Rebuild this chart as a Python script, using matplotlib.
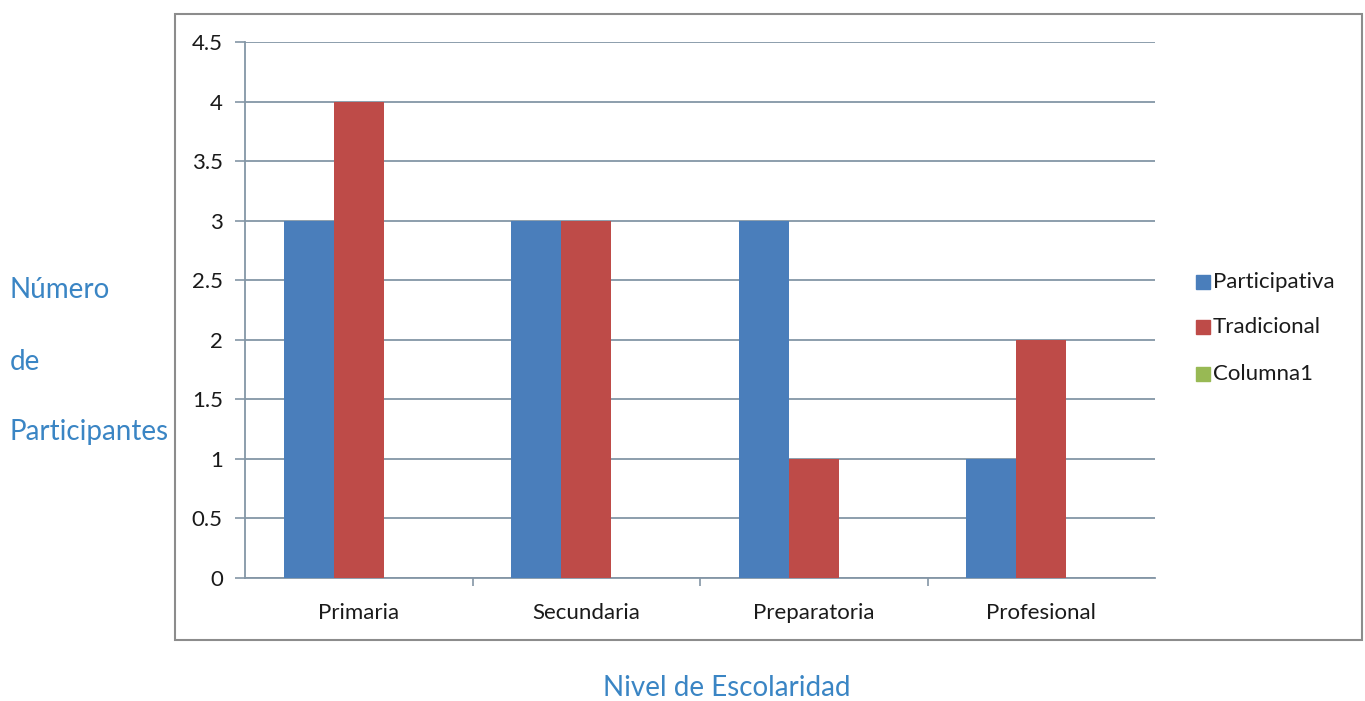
import matplotlib
matplotlib.use("Agg")
import matplotlib.pyplot as plt
import numpy as np
from matplotlib.patches import Rectangle

categories = ["Primaria", "Secundaria", "Preparatoria", "Profesional"]
series_names = ["Participativa", "Tradicional", "Columna1"]
participativa = [3, 3, 3, 1]
tradicional = [4, 3, 1, 2]
columna1 = [0, 0, 0, 0]
colors = ["#4a7ebb", "#be4b48", "#98b954"]
yticks = [0, 0.5, 1, 1.5, 2, 2.5, 3, 3.5, 4, 4.5]
ytick_labels = ["0", "0.5", "1", "1.5", "2", "2.5", "3", "3.5", "4", "4.5"]

plt.rcParams["font.family"] = ["Lato", "DejaVu Sans"]

W, H = 1365, 701
fig = plt.figure(figsize=(W / 100, H / 100), dpi=100)

# outer chart border
fig.patches.append(Rectangle((175 / W, 1 - 640 / H), (1362 - 175) / W, (640 - 14) / H,
                             transform=fig.transFigure, fill=False, edgecolor="#8c8c8c", lw=1.5))

ax = fig.add_axes([245 / W, 1 - 578 / H, 910 / W, 536 / H])

x = np.arange(len(categories))
width = 0.22
for i, (vals, name) in enumerate(zip([participativa, tradicional, columna1], series_names)):
    ax.bar(x + (i - 1) * width, vals, width=width, color=colors[i], label=name, zorder=3)

tick_fs = 16
ax.set_xlim(-0.5, len(categories) - 0.5)
ax.set_ylim(0, 4.5)
ax.set_yticks(yticks)
ax.set_yticklabels(ytick_labels)
ax.yaxis.grid(True, color="#8496a6", lw=1.3, zorder=0)
ax.set_xticks(x)
ax.set_xticklabels(categories)
ax.set_xticks(np.arange(0.5, len(categories) - 0.5), minor=True)
ax.tick_params(axis="x", which="major", length=0, pad=18, labelsize=tick_fs, labelcolor="#1a1a1a")
ax.tick_params(axis="x", which="minor", length=6, color="#8496a6", width=1.2)
ax.tick_params(axis="y", length=7, color="#8496a6", width=1.2, pad=9, labelsize=tick_fs, labelcolor="#1a1a1a")
for s in ["top", "right"]:
    ax.spines[s].set_visible(False)
ax.spines["left"].set_color("#8496a6")
ax.spines["left"].set_linewidth(1.3)
ax.spines["bottom"].set_color("#8496a6")
ax.spines["bottom"].set_linewidth(1.3)

# legend drawn by hand to match the Excel look
leg_y = [282, 327, 374]
for name, c, yy in zip(series_names, colors, leg_y):
    fig.patches.append(Rectangle((1196 / W, 1 - (yy + 7) / H), 14 / W, 14 / H,
                                 transform=fig.transFigure, color=c))
    fig.text(1213 / W, 1 - yy / H, name, fontsize=tick_fs, color="#1a1a1a", va="center", ha="left")

label_color = "#3a85c4"
for txt, yy in zip(["Número", "de", "Participantes"], [290, 362, 432]):
    fig.text(10 / W, 1 - yy / H, txt, fontsize=20, color=label_color, va="center", ha="left")
fig.text(727 / W, 1 - 688 / H, "Nivel de Escolaridad", fontsize=20, color=label_color,
         va="center", ha="center")

fig.savefig("out.png", dpi=100)
